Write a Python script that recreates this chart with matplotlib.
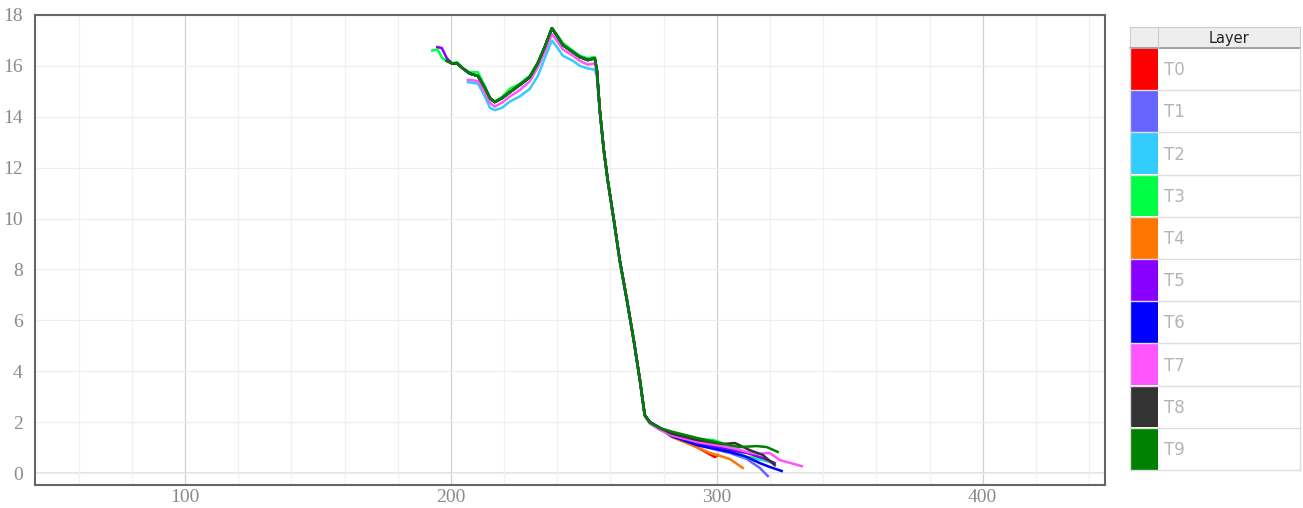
import matplotlib
matplotlib.use("Agg")
import matplotlib.pyplot as plt
from matplotlib.patches import Rectangle
from matplotlib.ticker import MultipleLocator

# ---- data ----
LAYERS = ["T0", "T1", "T2", "T3", "T4", "T5", "T6", "T7", "T8", "T9"]
COLORS = ["#ff0000", "#6666ff", "#33ccff", "#00ff44", "#ff7700",
          "#8800ff", "#0000ff", "#ff55ff", "#333333", "#008000"]

# shared x positions for the peak / drop section
BODY_X = [207.1, 210.2, 212.8, 214.7, 216.5, 219.2, 222.2, 225.9, 229.7, 232.7,
          235.3, 238.0, 239.8, 242.1, 245.9, 248.5, 251.5, 254.1, 254.9, 256.0,
          257.5, 259.0, 261.3, 263.5, 266.2, 268.8, 271.1, 272.9, 274.8, 278.6]
BODY_MAIN = [15.7, 15.6, 15.13, 14.73, 14.58, 14.73, 14.97, 15.25, 15.56, 16.1,
             16.74, 17.48, 17.2, 16.82, 16.54, 16.35, 16.23, 16.3, 15.83, 14.26,
             12.7, 11.5, 9.94, 8.37, 6.8, 5.2, 3.65, 2.28, 2.0, 1.77]
BODY_T3 = [15.75, 15.75, 15.2, 14.75, 14.6, 14.78, 15.1, 15.3, 15.62, 16.15,
           16.75, 17.45, 17.25, 16.9, 16.6, 16.4, 16.3, 16.35, 15.9, 14.3,
           12.7, 11.5, 9.9, 8.3, 6.75, 5.2, 3.6, 2.25, 1.95, 1.73]
BODY_T7 = [15.45, 15.4, 14.95, 14.55, 14.4, 14.55, 14.8, 15.05, 15.4, 15.95,
           16.55, 17.25, 17.0, 16.65, 16.4, 16.2, 16.05, 16.1, 15.7, 14.2,
           12.65, 11.45, 9.9, 8.35, 6.8, 5.2, 3.65, 2.25, 1.95, 1.7]
BODY_T2 = [15.35, 15.3, 14.8, 14.35, 14.26, 14.35, 14.6, 14.8, 15.1, 15.6,
           16.3, 17.0, 16.75, 16.4, 16.2, 16.0, 15.9, 15.85, 15.6, 14.2,
           12.65, 11.45, 9.9, 8.35, 6.8, 5.2, 3.65, 2.25, 1.95, 1.7]

# start of each trace
HEAD_X = {
    "T0": [198.5, 200.4, 202.3, 204.5], "T1": [198.5, 200.4, 202.3, 204.5],
    "T2": [206.4], "T3": [193.0, 195.0, 196.8, 198.5, 200.4, 202.3, 204.5],
    "T4": [198.5, 200.4, 202.3, 204.5], "T5": [194.9, 196.6, 198.5, 200.4, 202.3, 204.5],
    "T6": [198.5, 200.4, 202.3, 204.5], "T7": [206.4],
    "T8": [198.5, 200.4, 202.3, 204.5], "T9": [198.5, 200.4, 202.3, 204.5],
}
HEAD_Y = {
    "T0": [16.2, 16.1, 16.1, 15.9], "T1": [16.2, 16.1, 16.1, 15.9],
    "T2": [15.36], "T3": [16.6, 16.65, 16.3, 16.2, 16.1, 16.15, 15.9],
    "T4": [16.2, 16.1, 16.1, 15.9], "T5": [16.74, 16.7, 16.3, 16.1, 16.1, 15.9],
    "T6": [16.2, 16.1, 16.1, 15.9], "T7": [15.45],
    "T8": [16.2, 16.1, 16.1, 15.9], "T9": [16.2, 16.1, 16.1, 15.9],
}
BODY_Y = {"T0": BODY_MAIN, "T1": BODY_MAIN, "T2": BODY_T2, "T3": BODY_T3,
          "T4": BODY_MAIN, "T5": BODY_MAIN, "T6": BODY_MAIN, "T7": BODY_T7,
          "T8": BODY_MAIN, "T9": BODY_MAIN}

# diverging tails after the drop
TAIL_X = {
    "T0": [283.0, 292.5, 299.2, 300.4],
    "T1": [283.0, 292.5, 304.9, 311.3, 316.2, 319.2],
    "T2": [283.0, 292.5, 302.3, 309.8, 317.3, 321.1],
    "T3": [283.0, 292.5, 298.5, 301.1, 304.9, 311.3, 316.2, 321.1],
    "T4": [283.0, 292.5, 297.4, 300.0, 304.9, 309.8],
    "T5": [283.0, 292.5, 304.9, 311.3, 317.3, 321.8],
    "T6": [283.0, 292.5, 304.9, 311.3, 316.2, 319.9, 324.4],
    "T7": [283.0, 292.5, 304.9, 311.3, 315.0, 319.9, 323.7, 332.0],
    "T8": [283.0, 292.5, 302.3, 306.8, 312.4, 317.3, 321.8],
    "T9": [283.0, 292.5, 301.1, 308.6, 315.0, 318.8, 322.9],
}
TAIL_Y = {
    "T0": [1.45, 1.02, 0.63, 0.7],
    "T1": [1.45, 1.1, 0.79, 0.55, 0.2, -0.12],
    "T2": [1.5, 1.2, 1.02, 0.63, 0.51, 0.39],
    "T3": [1.6, 1.33, 1.3, 1.22, 0.98, 0.63, 0.59, 0.43],
    "T4": [1.42, 1.02, 0.79, 0.71, 0.55, 0.2],
    "T5": [1.52, 1.18, 0.9, 0.79, 0.59, 0.39],
    "T6": [1.45, 1.1, 0.83, 0.63, 0.39, 0.24, 0.08],
    "T7": [1.48, 1.22, 1.02, 0.83, 0.75, 0.79, 0.51, 0.27],
    "T8": [1.55, 1.3, 1.14, 1.18, 0.9, 0.71, 0.31],
    "T9": [1.63, 1.38, 1.18, 1.02, 1.06, 1.02, 0.83],
}

X_TICKS = [100, 200, 300, 400]
Y_TICKS = [0, 2, 4, 6, 8, 10, 12, 14, 16, 18]

W, H = 1303, 508
fig = plt.figure(figsize=(W / 100, H / 100), dpi=100)
fig.patch.set_facecolor("white")

# ---- main chart ----
ax = fig.add_axes([35 / W, 1 - 485 / H, 1070 / W, 470 / H])
ax.set_xlim(43.6, 446)
ax.set_ylim(-0.47, 18)
ax.xaxis.set_minor_locator(MultipleLocator(20))
ax.set_xticks(X_TICKS)
ax.set_yticks(Y_TICKS)
ax.grid(True, which="minor", axis="x", color="#f1f1f1", linewidth=0.9)
ax.grid(True, which="major", axis="x", color="#d0d0d0", linewidth=0.9)
ax.grid(True, which="major", axis="y", color="#eeeeee", linewidth=0.9)
ax.axhline(0, color="#dddddd", linewidth=1.2, zorder=0.5)
ax.set_axisbelow(True)
ax.tick_params(which="both", length=0, labelsize=14, labelcolor="#8a8a8a")
ax.tick_params(axis="y", pad=9)
ax.tick_params(axis="x", pad=3)
for lbl in ax.get_xticklabels() + ax.get_yticklabels():
    lbl.set_family("Liberation Serif")
for s in ax.spines.values():
    s.set_color("#666666")
    s.set_linewidth(1.5)

for name, col in zip(LAYERS, COLORS):
    xs = HEAD_X[name] + BODY_X + TAIL_X[name]
    ys = HEAD_Y[name] + BODY_Y[name] + TAIL_Y[name]
    ax.plot(xs, ys, color=col, linewidth=1.8, solid_joinstyle="round")

# ---- legend table on the right ----
lg = fig.add_axes([0, 0, 1, 1], facecolor="none")
lg.set_xlim(0, W)
lg.set_ylim(H, 0)
lg.axis("off")

left, right, top, head_bot, bottom = 1130, 1300, 27, 48, 470
sw_right = 1158
lg.add_patch(Rectangle((left, top), right - left, head_bot - top,
                       facecolor="#eeeeee", edgecolor="#cccccc", linewidth=0.8))
lg.plot([left, right], [head_bot, head_bot], color="#999999", linewidth=1.2)
lg.plot([sw_right, sw_right], [top, head_bot], color="#cccccc", linewidth=0.8)
lg.text((sw_right + right) / 2, (top + head_bot) / 2 + 1, "Layer", ha="center",
        va="center", fontsize=10.5, color="#222222", fontweight="medium")

row_h = (bottom - head_bot) / len(LAYERS)
for i, (name, col) in enumerate(zip(LAYERS, COLORS)):
    y0 = head_bot + i * row_h
    lg.add_patch(Rectangle((left + 1, y0 + 1), sw_right - left - 1, row_h - 1.5,
                           facecolor=col, edgecolor="none"))
    lg.plot([left, right], [y0 + row_h, y0 + row_h], color="#dddddd", linewidth=1.0)
    lg.text(sw_right + 6, y0 + row_h / 2 + 1, name, ha="left", va="center",
            fontsize=12, color="#b5b5b5")
lg.plot([right, right], [head_bot, bottom], color="#dddddd", linewidth=1.0)
lg.plot([left, left], [head_bot, bottom], color="#dddddd", linewidth=1.0)

fig.savefig("out.png", dpi=100)
